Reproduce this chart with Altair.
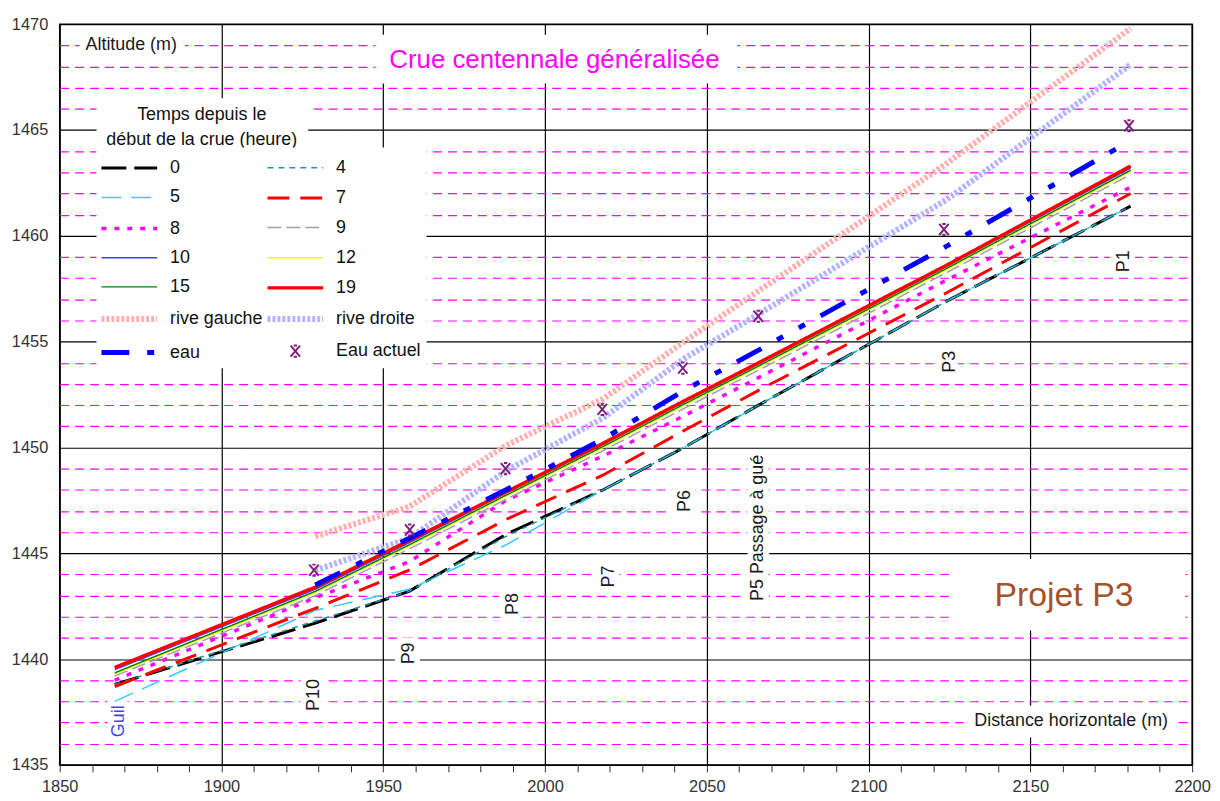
import altair as alt
import pandas as pd

# ---------------- data ----------------
series_order = ["0", "4", "5", "7", "8", "9", "10", "12", "15", "19",
                "rive gauche", "rive droite", "eau", "Eau actuel"]

stations = [1867, 1929, 1958, 1988, 2018, 2043, 2066, 2124, 2181]

h0 = [1438.8, 1441.7, 1443.2, 1445.9, 1448.0, 1450.0, 1452.0, 1456.9, 1461.4]
h4 = [1438.8, 1441.8, 1443.2, 1445.8, 1448.0, 1450.0, 1452.0, 1456.9, 1461.4]
h5 = [1438.0, 1442.3, 1443.3, 1445.4, 1448.0, 1450.0, 1452.0, 1456.9, 1461.4]
h7 = [1438.7, 1442.4, 1444.2, 1446.6, 1448.7, 1450.8, 1452.7, 1457.3, 1462.0]
h8 = [1439.0, 1442.9, 1444.6, 1447.5, 1449.6, 1451.5, 1453.3, 1457.9, 1462.3]
h9 = [1439.2, 1443.0, 1445.2, 1447.55, 1449.85, 1451.85, 1453.65, 1458.25, 1462.9]
h10 = [1439.5, 1443.3, 1445.5, 1447.85, 1450.15, 1452.15, 1453.95, 1458.55, 1463.2]
h12 = [1439.3, 1443.15, 1445.35, 1447.7, 1450.0, 1452.0, 1453.8, 1458.4, 1463.05]
h15 = [1439.35, 1443.2, 1445.4, 1447.75, 1450.05, 1452.05, 1453.85, 1458.45, 1463.1]
h19 = [1439.6, 1443.4, 1445.6, 1447.9, 1450.2, 1452.2, 1454.0, 1458.6, 1463.3]
rive_gauche = [None, 1445.8, 1447.2, 1450.1, 1452.3, 1455.0, 1457.4, 1463.4, 1469.8]
rive_droite = [None, 1444.2, 1445.7, 1448.9, 1451.4, 1454.2, 1456.3, 1461.7, 1468.1]
eau = [None, 1443.5, 1445.7, 1448.0, 1450.4, 1452.7, 1454.6, 1459.5, 1464.5]

eau_actuel_x = [1928.6, 1958.2, 1987.8, 2017.7, 2042.6, 2065.9, 2123.3, 2180.5]
eau_actuel_y = [1444.2, 1446.1, 1449.0, 1451.8, 1453.75, 1456.2, 1460.3, 1465.2]

profile_names = ["P10", "P9", "P8", "P7", "P6", "P5 Passage à gué", "P3", "P1"]
profile_label_x = [1928.6, 1958.1, 1990.2, 2019.9, 2043.4, 2065.9, 2125.3, 2179.0]
profile_label_y = [1438.3, 1440.27, 1442.6, 1443.9, 1447.47, 1446.2, 1454.05, 1458.8]

river_name = "Guil"
river_x = [1868.4]
river_y = [1437.06]

legend_title_lines = ["Temps depuis le", "début de la crue (heure)"]
legend_title_x = [1893.9, 1893.9]
legend_title_y = [1465.73, 1464.55]

note_texts = ["Altitude (m)", "Crue centennale généralisée", "Projet P3", "Distance horizontale (m)"]
note_x = [1872.1, 2002.9, 2160.4, 2162.6]
note_y = [1469.0, 1468.3, 1443.0, 1437.07]

# white background boxes behind the notes (data units)
box_x1 = [1856.1, 1947.6, 2125.4, 2129.4, 1861.4]
box_x2 = [1888.7, 2059.4, 2197.9, 2194.8, 1926.8]
box_y1 = [1468.5, 1467.2, 1441.35, 1436.3, 1463.9]
box_y2 = [1469.5, 1469.5, 1444.73, 1437.8, 1466.5]

x_ticks = list(range(1850, 2201, 10))
y_ticks = list(range(1435, 1471))

# ---------------- styles ----------------
colors = {"0": "#000000", "4": "#1f9a9a", "5": "#33ccff", "7": "#ff0000",
          "8": "#ff00ff", "9": "#a0a0a0", "10": "#4040ff", "12": "#ffff00",
          "15": "#008000", "19": "#ff0000", "rive gauche": "#ffb0b0",
          "rive droite": "#b4b4ff", "eau": "#0000ff", "Eau actuel": "#7f1f7f"}
dashes = {"0": [25, 8], "4": [6, 5], "5": [20, 10], "7": [22, 11], "8": [5, 8],
          "9": [14, 5], "10": [1, 0], "12": [1, 0], "15": [1, 0], "19": [1, 0],
          "rive gauche": [3, 2], "rive droite": [3, 2],
          "eau": [28, 18, 7, 18, 7, 18], "Eau actuel": [1, 0]}
widths = {"0": 3, "4": 1.5, "5": 1.5, "7": 3, "8": 3.5, "9": 1.5, "10": 1.5,
          "12": 1.5, "15": 1.5, "19": 3.5, "rive gauche": 6, "rive droite": 6,
          "eau": 5, "Eau actuel": 2}
SYM_SIZE = 784  # symbol radius 14 px
line_path = "M-2,0L2,0"  # 56 px long legend stroke
star_path = ("M-0.34,-0.4L0.34,0.4M0.34,-0.4L-0.34,0.4"
             "M-0.12,-0.4L0.12,-0.4M-0.12,0.4L0.12,0.4")
shapes = {s: line_path for s in series_order}
shapes["Eau actuel"] = star_path

# ---------------- tables ----------------
line_values = {"0": h0, "4": h4, "5": h5, "7": h7, "8": h8, "9": h9, "10": h10,
               "12": h12, "15": h15, "19": h19, "rive gauche": rive_gauche,
               "rive droite": rive_droite, "eau": eau}
rows = []
for name, vals in line_values.items():
    for i, (xv, yv) in enumerate(zip(stations, vals)):
        if yv is not None:
            rows.append({"serie": name, "x": xv, "alt": yv, "i": i})
lines_df = pd.DataFrame(rows)

stars_df = pd.DataFrame({"serie": ["Eau actuel"] * len(eau_actuel_x),
                         "x": eau_actuel_x, "alt": eau_actuel_y})
profiles_df = pd.DataFrame({"label": profile_names, "x": profile_label_x,
                            "alt": profile_label_y})
river_df = pd.DataFrame({"label": [river_name], "x": river_x, "alt": river_y})
ltitle_df = pd.DataFrame({"label": legend_title_lines, "x": legend_title_x,
                          "alt": legend_title_y})
notes_df = pd.DataFrame({"label": note_texts, "x": note_x, "alt": note_y})
boxes_df = pd.DataFrame({"x": box_x1, "x2": box_x2, "alt": box_y1, "alt2": box_y2})

# ---------------- encodings ----------------
FONT = "Liberation Sans"
x_scale = alt.Scale(domain=[1850, 2200], nice=False, zero=False)
y_scale = alt.Scale(domain=[1435, 1470], nice=False, zero=False)

x_axis = alt.Axis(values=x_ticks, format="d",
                  labelExpr="datum.value % 50 === 0 ? datum.label : ''",
                  title=None, domain=False, ticks=True, tickSize=7,
                  tickColor="#333333", tickWidth=1, labelFontSize=16.5,
                  labelColor="#333333", labelPadding=7, labelOverlap=False,
                  labelFlush=False, grid=True, gridColor="black", gridWidth=1.2,
                  gridOpacity={"condition": {"test": "datum.value % 50 === 0", "value": 1},
                               "value": 0})
y_axis = alt.Axis(values=y_ticks, format="d",
                  labelExpr="datum.value % 5 === 0 ? datum.label : ''",
                  title=None, domain=False, ticks=False, tickSize=0,
                  labelPadding=12, labelFontSize=16.5, labelColor="#333333",
                  labelOverlap=False, grid=True, gridWidth=1.2,
                  gridColor={"condition": {"test": "datum.value % 5 === 0", "value": "black"},
                             "value": "#ff00ff"},
                  gridDash={"condition": {"test": "datum.value % 5 === 0", "value": [1, 0]},
                            "value": [9, 6]})

X = alt.X("x:Q", scale=x_scale, axis=x_axis)
Y = alt.Y("alt:Q", scale=y_scale, axis=y_axis)

legend = alt.Legend(
    title=None, orient="none", legendX=37, legendY=124, columns=2,
    direction="horizontal", symbolSize=SYM_SIZE, symbolOffset=11,
    labelFont=FONT, labelFontSize=18, labelColor="#111111", labelOffset=24,
    labelLimit=200, rowPadding=5.3, columnPadding=-8, fillColor="white", padding=5)

color_scale = alt.Scale(domain=series_order, range=[colors[s] for s in series_order])
dash_scale = alt.Scale(type="ordinal", domain=series_order,
                       range=[dashes[s] for s in series_order])
width_scale = alt.Scale(type="ordinal", domain=series_order,
                        range=[widths[s] for s in series_order])
shape_scale = alt.Scale(type="ordinal", domain=series_order,
                        range=[shapes[s] for s in series_order])

C = alt.Color("serie:N", scale=color_scale, legend=legend)
D = alt.StrokeDash("serie:N", scale=dash_scale, legend=legend)
W = alt.StrokeWidth("serie:N", scale=width_scale, legend=legend)
S = alt.Shape("serie:N", scale=shape_scale, legend=legend)

# ---------------- layers ----------------
layers = []

layers.append(alt.Chart(boxes_df).mark_rect(color="white").encode(
    x=X, x2="x2:Q", y=Y, y2="alt2:Q"))

layers.append(alt.Chart(profiles_df).mark_text(
    angle=270, fontSize=18, font=FONT, stroke="white", strokeWidth=12,
    strokeJoin="round", color="white").encode(x=X, y=Y, text="label:N"))
layers.append(alt.Chart(river_df).mark_text(
    angle=270, fontSize=18, font=FONT, stroke="white", strokeWidth=12,
    strokeJoin="round", color="white").encode(x=X, y=Y, text="label:N"))

draw_order = ["rive gauche", "rive droite", "0", "5", "4", "7", "8", "9",
              "10", "12", "15", "19", "eau"]
for s in draw_order:
    layers.append(alt.Chart(lines_df[lines_df["serie"] == s]).mark_line().encode(
        x=X, y=Y, color=C, strokeDash=D, strokeWidth=W,
        order=alt.Order("i:Q")))

layers.append(alt.Chart(stars_df).mark_point(filled=False, size=SYM_SIZE, opacity=1).encode(
    x=X, y=Y, color=C, strokeDash=D, strokeWidth=W, shape=S))

layers.append(alt.Chart(profiles_df).mark_text(
    angle=270, fontSize=18, font=FONT, color="#1a1a1a").encode(x=X, y=Y, text="label:N"))
layers.append(alt.Chart(river_df).mark_text(
    angle=270, fontSize=18, font=FONT, color="#4444ff").encode(x=X, y=Y, text="label:N"))
layers.append(alt.Chart(ltitle_df).mark_text(
    fontSize=18, font=FONT, color="#111111").encode(x=X, y=Y, text="label:N"))

note_styles = [(18, "#1a1a1a"), (26, "#ff00ff"), (34, "#a5522c"), (18, "#1a1a1a")]
for k, (fs, col) in enumerate(note_styles):
    layers.append(alt.Chart(notes_df.iloc[[k]]).mark_text(
        fontSize=fs, font=FONT, color=col).encode(x=X, y=Y, text="label:N"))

chart = alt.layer(*layers).properties(
    width=1139, height=745,
    padding={"left": 52, "top": 14, "right": 20, "bottom": 30},
    autosize=alt.AutoSizeParams(type="none"),
).configure(font=FONT).configure_view(stroke="black", strokeWidth=1.5)

chart.save("out.html", embed_options={"renderer": "svg", "actions": False})
